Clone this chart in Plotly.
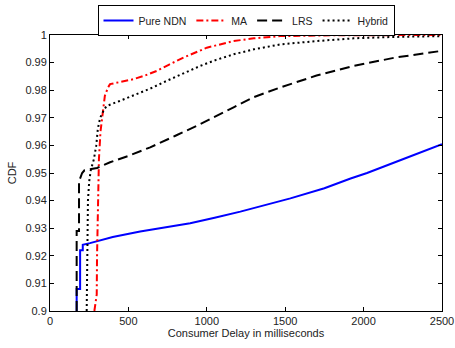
import plotly.graph_objects as go

# Pure NDN
ndn_x = [170, 170, 192, 192, 209, 209, 255, 400, 575, 700, 894, 1050, 1214, 1533, 1750, 1917, 2022, 2250, 2500]
ndn_y = [0.900, 0.908, 0.908, 0.922, 0.922, 0.924, 0.9246, 0.9268, 0.9288, 0.9300, 0.9318, 0.9338, 0.9360, 0.9408, 0.9445, 0.9480, 0.9500, 0.9550, 0.9604]

# MA
ma_x = [283, 290, 298, 300, 305, 312, 322, 335, 350, 370, 383, 450, 532, 600, 681, 760, 851, 1000, 1171, 1300, 1469, 1800, 2500]
ma_y = [0.900, 0.903, 0.906, 0.920, 0.940, 0.955, 0.965, 0.972, 0.978, 0.981, 0.9822, 0.9830, 0.9840, 0.9852, 0.9870, 0.9893, 0.9918, 0.9954, 0.9978, 0.9988, 0.9996, 0.9999, 1.0]

# LRS
lrs_x = [170, 170, 185, 185, 205, 220, 300, 383, 500, 639, 800, 958, 1171, 1300, 1469, 1700, 1937, 2200, 2492]
lrs_y = [0.900, 0.929, 0.929, 0.947, 0.950, 0.951, 0.9518, 0.9539, 0.9562, 0.9593, 0.9635, 0.9677, 0.9738, 0.9775, 0.9810, 0.9853, 0.9888, 0.9918, 0.9942]

# Hybrid
hyb_x = [234, 238, 242, 250, 260, 280, 295, 305, 320, 345, 362, 440, 532, 640, 745, 850, 958, 1060, 1171, 1300, 1469, 1700, 1937, 2200, 2492]
hyb_y = [0.900, 0.930, 0.940, 0.947, 0.951, 0.955, 0.960, 0.966, 0.970, 0.973, 0.9743, 0.9760, 0.9780, 0.9806, 0.9834, 0.9862, 0.9888, 0.9910, 0.9930, 0.9948, 0.9966, 0.9978, 0.9988, 0.9993, 0.9996]

y_ticks = [0.9, 0.91, 0.92, 0.93, 0.94, 0.95, 0.96, 0.97, 0.98, 0.99, 1.0]
y_labels = ["0.9", "0.91", "0.92", "0.93", "0.94", "0.95", "0.96", "0.97", "0.98", "0.99", "1"]
x_ticks = [0, 500, 1000, 1500, 2000, 2500]

fig = go.Figure()
fig.add_trace(go.Scatter(x=ndn_x, y=ndn_y, mode="lines", name="Pure NDN",
                         line=dict(color="#0000ff", width=2)))
fig.add_trace(go.Scatter(x=ma_x, y=ma_y, mode="lines", name="MA",
                         line=dict(color="#ff0000", width=2, dash="7px,3px,2px,3px")))
fig.add_trace(go.Scatter(x=lrs_x, y=lrs_y, mode="lines", name="LRS",
                         line=dict(color="#000000", width=2, dash="10px,5px")))
fig.add_trace(go.Scatter(x=hyb_x, y=hyb_y, mode="lines", name="Hybrid",
                         line=dict(color="#000000", width=2, dash="2px,3px")))

axis_common = dict(showgrid=False, zeroline=False, showline=True, linecolor="black",
                   linewidth=1, mirror="ticks", ticks="inside", ticklen=4,
                   tickcolor="black", tickfont=dict(size=11, color="#222"),
                   automargin=False)

fig.update_layout(
    width=455, height=348,
    margin=dict(l=50, r=13, t=35, b=37, autoexpand=False),
    paper_bgcolor="white", plot_bgcolor="white",
    font=dict(family="Liberation Sans, Arial, sans-serif", size=11, color="#222"),
    showlegend=True,
    legend=dict(orientation="h", x=0.5, y=1.109, xanchor="center", yanchor="top",
                bordercolor="black", borderwidth=1, bgcolor="white",
                font=dict(size=10.5), itemwidth=30, tracegroupgap=0),
    xaxis=dict(range=[0, 2500], tickvals=x_ticks,
               title=dict(text="Consumer Delay in milliseconds", standoff=2, font=dict(size=11)),
               **axis_common),
    yaxis=dict(range=[0.9, 1.0], tickvals=y_ticks, ticktext=y_labels,
               title=dict(text="CDF", standoff=6, font=dict(size=11)),
               **axis_common),
)

fig.write_html("out.html", config={"displayModeBar": False},
               post_script="document.body.style.margin='0px';")
